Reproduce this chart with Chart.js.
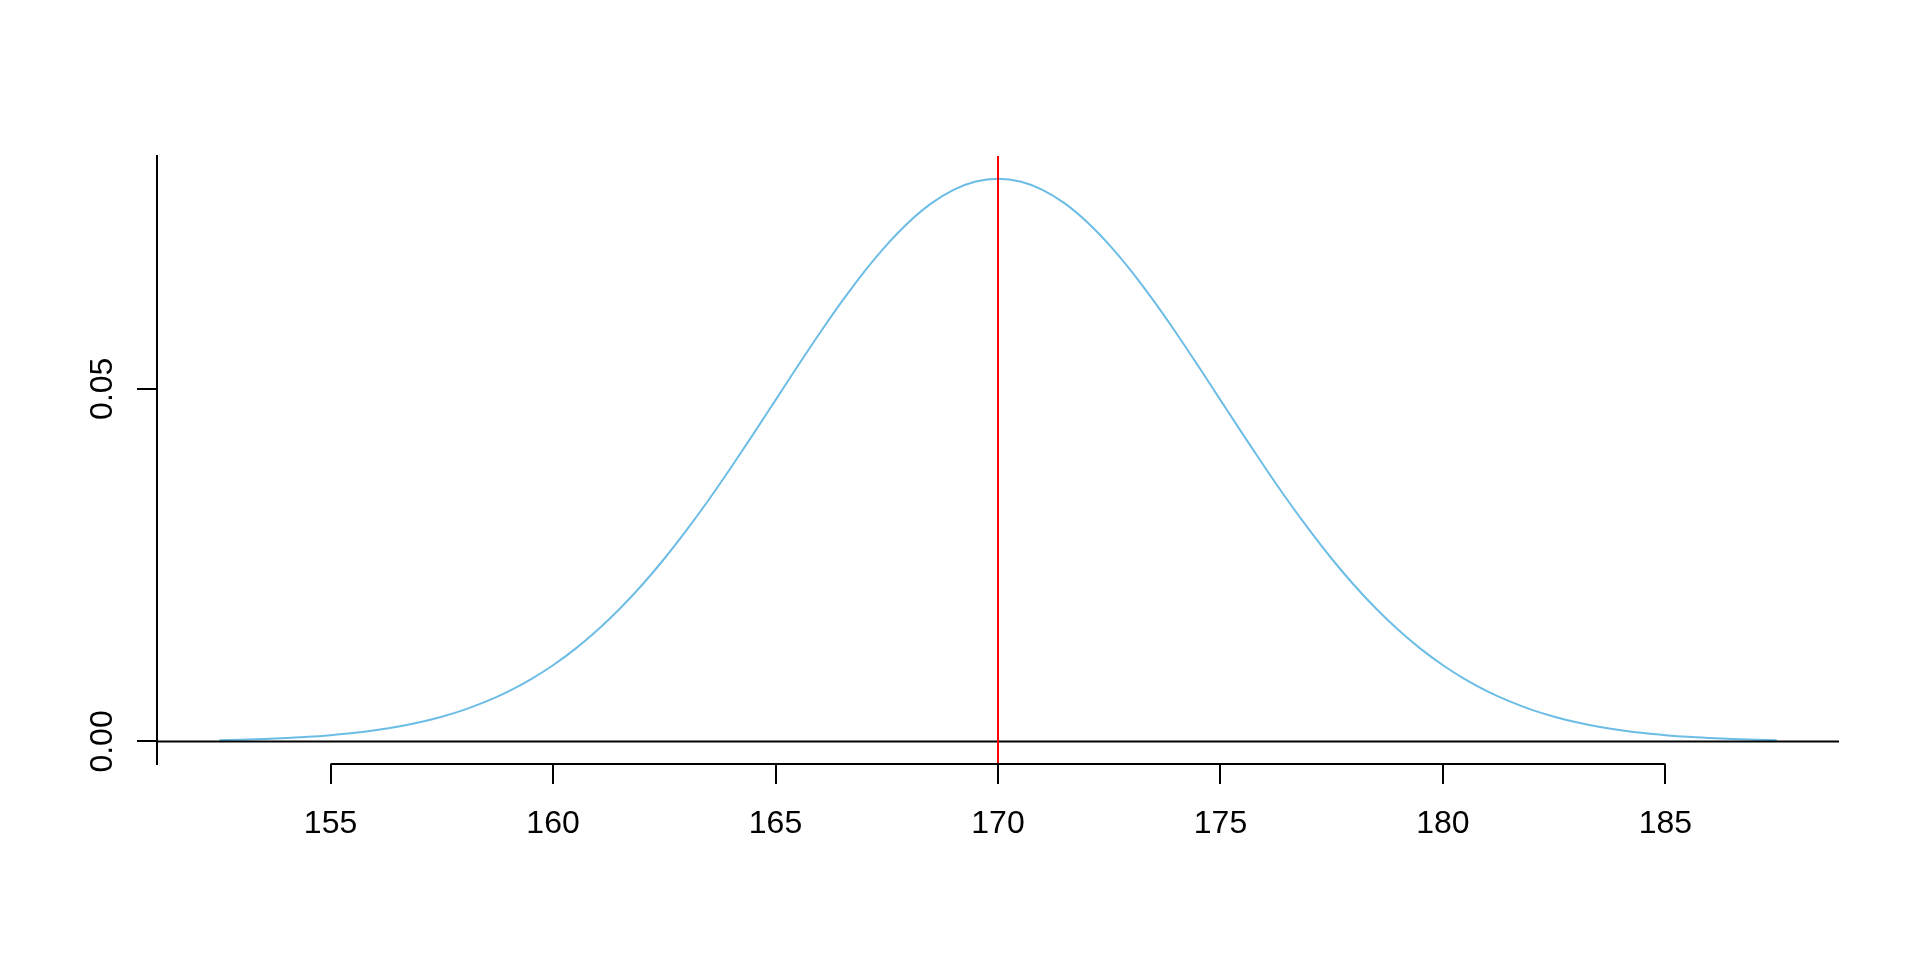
<!DOCTYPE html>
<html>
<head>
<meta charset="utf-8">
<script src="https://cdn.jsdelivr.net/npm/chart.js@4.4.0/dist/chart.umd.min.js"></script>
<style>
  html, body { margin: 0; padding: 0; background: #fff; }
  #wrap { width: 1920px; height: 960px; }
</style>
</head>
<body>
<div id="wrap"><canvas id="densityChart" width="1920" height="960"></canvas></div>
<script>
// height (cm) and the density
const heights = [
  152.5, 153, 153.5, 154, 154.5, 155, 155.5, 156, 156.5, 157, 157.5, 158, 158.5, 159, 159.5,
  160, 160.5, 161, 161.5, 162, 162.5, 163, 163.5, 164, 164.5, 165, 165.5, 166, 166.5, 167,
  167.5, 168, 168.5, 169, 169.5, 170, 170.5, 171, 171.5, 172, 172.5, 173, 173.5, 174, 174.5,
  175, 175.5, 176, 176.5, 177, 177.5, 178, 178.5, 179, 179.5, 180, 180.5, 181, 181.5, 182,
  182.5, 183, 183.5, 184, 184.5, 185, 185.5, 186, 186.5, 187, 187.5
];
const density = [
  0.00017, 0.00025, 0.00034, 0.00048, 0.00065, 0.00089, 0.00119, 0.00158, 0.00208, 0.00272,
  0.00351, 0.00448, 0.00567, 0.00710, 0.00880, 0.01080, 0.01312, 0.01579, 0.01881, 0.02218,
  0.02590, 0.02995, 0.03427, 0.03884, 0.04357, 0.04839, 0.05322, 0.05794, 0.06245, 0.06665,
  0.07041, 0.07365, 0.07628, 0.07821, 0.07939, 0.07979,
  0.07939, 0.07821, 0.07628, 0.07365, 0.07041, 0.06665, 0.06245, 0.05794, 0.05322, 0.04839,
  0.04357, 0.03884, 0.03427, 0.02995, 0.02590, 0.02218, 0.01881, 0.01579, 0.01312, 0.01080,
  0.00880, 0.00710, 0.00567, 0.00448, 0.00351, 0.00272, 0.00208, 0.00158, 0.00119, 0.00089,
  0.00065, 0.00048, 0.00034, 0.00025, 0.00017
];
const xTicks = [155, 160, 165, 170, 175, 180, 185];
const yTicks = [0, 0.05];
const yTickLabels = ['0.00', '0.05'];
const meanHeight = 170;
const baseline = 0;
const xLimits = [151.1, 188.9];
const yLimits = [-0.0032, 0.0830];

const FONT = "'Liberation Sans', Arial, Helvetica, sans-serif";

// abline-style reference lines + R-like axis bits
const rBits = {
  id: 'rBits',
  afterDatasetsDraw(chart) {
    const { ctx, chartArea: a, scales: { x, y } } = chart;
    ctx.save();
    ctx.lineWidth = 2;
    ctx.strokeStyle = '#000000';
    const py = y.getPixelForValue(baseline);
    ctx.beginPath();
    ctx.moveTo(a.left, py);
    ctx.lineTo(a.right, py);
    ctx.stroke();

    ctx.strokeStyle = '#ff0000';
    const px = x.getPixelForValue(meanHeight);
    ctx.beginPath();
    ctx.moveTo(px, a.top);
    ctx.lineTo(px, a.bottom);
    ctx.stroke();
    ctx.restore();
  },
  afterDraw(chart) {
    const { ctx, chartArea: a, scales: { x, y } } = chart;
    ctx.save();
    // x axis line only between first and last tick
    ctx.lineWidth = 2;
    ctx.strokeStyle = '#000000';
    ctx.beginPath();
    ctx.moveTo(x.getPixelForValue(xTicks[0]), a.bottom);
    ctx.lineTo(x.getPixelForValue(xTicks[xTicks.length - 1]), a.bottom);
    ctx.stroke();

    // y tick labels, rotated like R's las = 0
    ctx.fillStyle = '#000000';
    ctx.font = '32px ' + FONT;
    ctx.textAlign = 'center';
    ctx.textBaseline = 'alphabetic';
    yTicks.forEach((v, i) => {
      ctx.save();
      ctx.translate(a.left - 45, y.getPixelForValue(v));
      ctx.rotate(-Math.PI / 2);
      ctx.fillText(yTickLabels[i], 0, 0);
      ctx.restore();
    });
    ctx.restore();
  }
};

const densityChart = new Chart(document.getElementById('densityChart').getContext('2d'), {
  type: 'line',
  data: {
    datasets: [{
      data: heights.map((h, i) => ({ x: h, y: density[i] })),
      borderColor: '#6CBDE6',
      borderWidth: 2,
      pointRadius: 0,
      fill: false,
      cubicInterpolationMode: 'monotone'
    }]
  },
  options: {
    responsive: false,
    animation: false,
    layout: {
      padding: { top: 156, right: 81, left: 0, bottom: 0 }
    },
    plugins: {
      legend: { display: false },
      tooltip: { enabled: false }
    },
    scales: {
      x: {
        type: 'linear',
        min: xLimits[0],
        max: xLimits[1],
        afterBuildTicks: (s) => { s.ticks = xTicks.map(v => ({ value: v })); },
        afterFit: (s) => { s.height = 196; },
        grid: {
          drawOnChartArea: false,
          color: '#000000',
          lineWidth: 2,
          tickLength: 20
        },
        border: { display: false },
        ticks: {
          color: '#000000',
          padding: 21,
          maxRotation: 0,
          font: { family: FONT, size: 32 },
          callback: (v) => String(v)
        }
      },
      y: {
        type: 'linear',
        min: yLimits[0],
        max: yLimits[1],
        afterBuildTicks: (s) => { s.ticks = yTicks.map(v => ({ value: v })); },
        afterFit: (s) => { s.width = 157; },
        grid: {
          drawOnChartArea: false,
          color: '#000000',
          lineWidth: 2,
          tickLength: 20
        },
        border: { display: true, color: '#000000', width: 2 },
        ticks: { display: false }
      }
    }
  },
  plugins: [rBits]
});
</script>
</body>
</html>
